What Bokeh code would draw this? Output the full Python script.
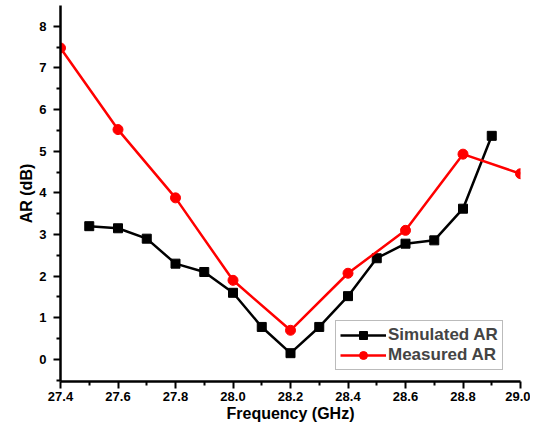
from bokeh.plotting import figure
from bokeh.models import Range1d, Legend, LegendItem, FixedTicker, LinearAxis, PrintfTickFormatter
from bokeh.embed import file_html
from bokeh.resources import INLINE

sim_freq = [27.5, 27.6, 27.7, 27.8, 27.9, 28.0, 28.1, 28.2, 28.3, 28.4, 28.5, 28.6, 28.7, 28.8, 28.9]
sim_ar = [3.2, 3.15, 2.9, 2.3, 2.1, 1.6, 0.78, 0.15, 0.78, 1.52, 2.43, 2.78, 2.86, 3.62, 5.37]
meas_freq = [27.4, 27.6, 27.8, 28.0, 28.2, 28.4, 28.6, 28.8, 29.0]
meas_ar = [7.48, 5.52, 3.88, 1.9, 0.7, 2.07, 3.1, 4.93, 4.46]
x_ticks = [27.4, 27.6, 27.8, 28.0, 28.2, 28.4, 28.6, 28.8, 29.0]
x_minor = [27.5, 27.7, 27.9, 28.1, 28.3, 28.5, 28.7, 28.9]
y_ticks = [0, 1, 2, 3, 4, 5, 6, 7, 8]
y_minor = [-0.5, 0.5, 1.5, 2.5, 3.5, 4.5, 5.5, 6.5, 7.5]

FONT = "Liberation Sans"

p = figure(width=530, height=427, output_backend="svg", toolbar_location=None,
           x_range=Range1d(27.4, 29.0), y_range=Range1d(-0.53, 8.5),
           x_axis_location=None, y_axis_location=None,
           min_border_left=60, min_border_right=10, min_border_top=5, min_border_bottom=46)
p.outline_line_color = None
p.xgrid.visible = False
p.ygrid.visible = False

common = dict(axis_line_width=2.5, axis_line_color="black",
              major_tick_line_width=2, major_tick_line_color="black",
              minor_tick_line_width=2, minor_tick_line_color="black",
              major_tick_out=7, major_tick_in=0, minor_tick_out=4, minor_tick_in=0,
              major_label_text_font=FONT, major_label_text_font_style="bold",
              major_label_text_font_size="13px", major_label_text_color="black",
              axis_label_text_font=FONT, axis_label_text_font_style="bold",
              axis_label_text_font_size="16px", axis_label_text_color="black")

xaxis = LinearAxis(ticker=FixedTicker(ticks=x_ticks, minor_ticks=x_minor),
                   formatter=PrintfTickFormatter(format="%.1f"),
                   axis_label="Frequency (GHz)", major_label_standoff=3, axis_label_standoff=1, **common)
yaxis = LinearAxis(ticker=FixedTicker(ticks=y_ticks, minor_ticks=y_minor),
                   axis_label="AR (dB)", major_label_standoff=7, axis_label_standoff=1, **common)
p.add_layout(xaxis, "below")
p.add_layout(yaxis, "left")

l1 = p.line(sim_freq, sim_ar, line_color="black", line_width=2.5)
m1 = p.scatter(sim_freq, sim_ar, marker="square", size=9, fill_color="black", line_color="black")
l2 = p.line(meas_freq, meas_ar, line_color="red", line_width=2.5)
m2 = p.scatter(meas_freq, meas_ar, marker="circle", size=10, fill_color="red", line_color="red")

legend = Legend(items=[LegendItem(label="Simulated AR", renderers=[l1, m1]),
                       LegendItem(label="Measured AR", renderers=[l2, m2])],
                location=(275, 11))
legend.label_text_font = FONT
legend.label_text_font_style = "bold"
legend.label_text_font_size = "17px"
legend.border_line_color = "#777777"
legend.border_line_width = 1
legend.glyph_width = 46
legend.glyph_height = 20
legend.label_height = 20
legend.spacing = 0
legend.padding = 4
legend.margin = 0
legend.label_standoff = 2
legend.background_fill_alpha = 1
p.add_layout(legend, "center")

open("out.html", "w").write(file_html(p, INLINE))
